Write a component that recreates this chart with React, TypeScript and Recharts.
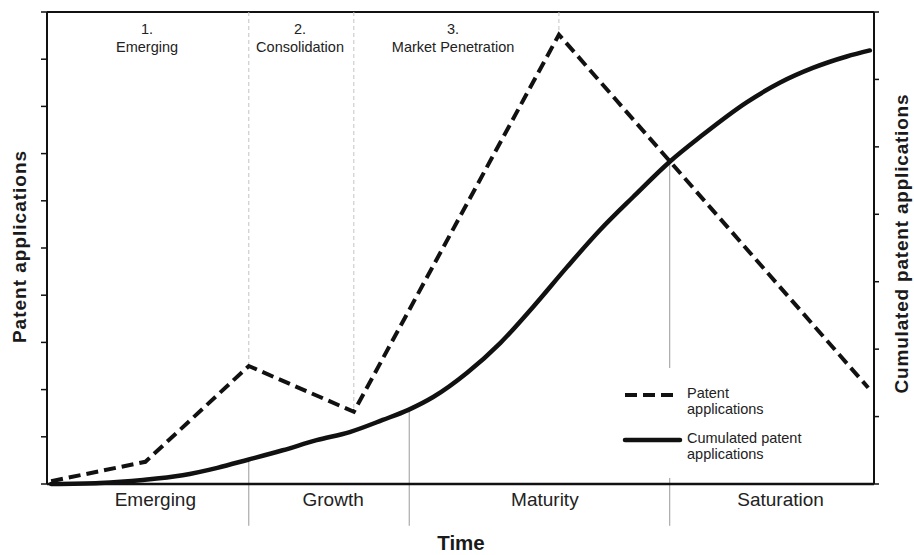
import React from 'react'
import { LineChart, Line, XAxis, YAxis, ReferenceLine, ReferenceDot, Legend } from 'recharts'

const FONT = '"Liberation Sans", Arial, Helvetica, sans-serif'
const INK = '#111'

// time axis runs 0..100 across the plot
const patentTime = [0.5, 11.9, 24.4, 37.1, 61.9, 99.3]
const patentValues = [0.06, 0.47, 2.5, 1.53, 9.52, 2.04]

const cumulatedTime = [
  0.5, 6.4, 11.6, 16.4, 20.6, 24.3, 28.5, 32.6, 36.6, 40.6, 43.7, 46.7, 50.8,
  54.8, 58.8, 62.9, 66.9, 70.9, 75.3, 79.0, 84.6, 88.6, 92.6, 96.7, 99.5,
]
const cumulatedValues = [
  0, 0.015, 0.06, 0.13, 0.24, 0.36, 0.5, 0.65, 0.77, 0.95, 1.1, 1.29, 1.65,
  2.09, 2.63, 3.22, 3.77, 4.26, 4.78, 5.15, 5.66, 5.95, 6.17, 6.34, 6.43,
]

const stageNumbers = ['1.', '2.', '3.']
const stageNames = ['Emerging', 'Consolidation', 'Market Penetration']
const stageCenters = [12.1, 30.6, 49.1]
const stageBounds = [24.4, 37.1, 61.9]
const stageBoundValues = [2.5, 1.53, 9.52]

const phaseNames = ['Emerging', 'Growth', 'Maturity', 'Saturation']
const phaseCenters = [13.1, 34.6, 60.2, 88.7]
const phaseBounds = [24.4, 43.8, 75.3]
const phaseBoundValues = [0.36, 1.1, 4.78]

const leftTicks = [0, 1, 2, 3, 4, 5, 6, 7, 8, 9, 10]
const rightTicks = [0, 1, 2, 3, 4, 5, 6, 7]

const patentData = patentTime.map((t, i) => ({ t, v: patentValues[i] }))
const cumulatedData = cumulatedTime.map((t, i) => ({ t, v: cumulatedValues[i] }))

const NoLabel = () => <g />

function stageLabel(i: number) {
  return (props: any) => {
    const { x, y, width } = props.viewBox
    const cx = x + (width || 0) / 2
    return (
      <g>
        <text x={cx} y={y + 21.5} textAnchor="middle" fontFamily={FONT} fontSize={14.5} fill="#222">
          {stageNumbers[i]}
        </text>
        <text x={cx} y={y + 39.7} textAnchor="middle" fontFamily={FONT} fontSize={14.5} fill="#222">
          {stageNames[i]}
        </text>
      </g>
    )
  }
}

function LegendBox() {
  const txt = { fontFamily: FONT, fontSize: 14.5, fill: '#222' }
  return (
    <svg width={220} height={95}>
      <line x1={5} y1={20} x2={55} y2={20} stroke={INK} strokeWidth={4} strokeDasharray="12 6" />
      <text x={67} y={22.5} {...txt}>Patent</text>
      <text x={67} y={38.5} {...txt}>applications</text>
      <line x1={5} y1={65} x2={60} y2={65} stroke={INK} strokeWidth={4.5} strokeLinecap="round" />
      <text x={67} y={67.8} {...txt}>Cumulated patent</text>
      <text x={67} y={83.5} {...txt}>applications</text>
    </svg>
  )
}

const titleStyle = { fontFamily: FONT, fontWeight: 700, fill: '#1a1a1a' }

export default function App() {
  return (
    <div style={{ position: 'absolute', left: 0, top: 0, background: '#fff' }}>
      <LineChart width={914} height={555} margin={{ top: 12, right: 0, bottom: 0, left: 0 }}>
        <XAxis
          xAxisId="x"
          dataKey="t"
          type="number"
          domain={[0, 100]}
          ticks={phaseCenters}
          tickFormatter={(v) => phaseNames[phaseCenters.indexOf(v)]}
          tickLine={false}
          tickSize={6}
          tickMargin={3}
          height={71}
          axisLine={{ stroke: INK, strokeWidth: 2.5 }}
          tick={{ fontFamily: FONT, fontSize: 19, fill: '#222' }}
          label={{
            content: () => (
              <text x={461} y={550} textAnchor="middle" fontSize={20.5} {...titleStyle}>
                Time
              </text>
            ),
          }}
        />
        <YAxis
          yAxisId="left"
          domain={[0, 10]}
          ticks={leftTicks}
          tick={<NoLabel />}
          tickSize={6}
          width={47}
          axisLine={{ stroke: INK, strokeWidth: 2 }}
          tickLine={{ stroke: INK, strokeWidth: 1.5 }}
          label={{
            content: () => (
              <text
                x={26}
                y={246.5}
                transform="rotate(-90, 26, 246.5)"
                textAnchor="middle"
                fontSize={19}
                letterSpacing={1}
                {...titleStyle}
              >
                Patent applications
              </text>
            ),
          }}
        />
        <YAxis
          yAxisId="right"
          orientation="right"
          domain={[0, 7]}
          ticks={rightTicks}
          tick={<NoLabel />}
          tickSize={5}
          width={40}
          axisLine={{ stroke: INK, strokeWidth: 2 }}
          tickLine={{ stroke: INK, strokeWidth: 1.5 }}
          label={{
            content: () => (
              <text
                x={908}
                y={243.5}
                transform="rotate(-90, 908, 243.5)"
                textAnchor="middle"
                fontSize={19}
                letterSpacing={0.8}
                {...titleStyle}
              >
                Cumulated patent applications
              </text>
            ),
          }}
        />

        <ReferenceLine xAxisId="x" yAxisId="left" y={10} stroke={INK} strokeWidth={2} />

        {stageBounds.map((b, i) => (
          <ReferenceLine
            key={`s${i}`}
            xAxisId="x"
            yAxisId="left"
            segment={[
              { x: b, y: 10 },
              { x: b, y: stageBoundValues[i] },
            ]}
            stroke="#c4c4c4"
            strokeWidth={1}
            strokeDasharray="4 3"
          />
        ))}

        {stageCenters.map((c, i) => (
          <ReferenceDot
            key={`l${i}`}
            xAxisId="x"
            yAxisId="left"
            x={c}
            y={10}
            r={0}
            fill="none"
            stroke="none"
            ifOverflow="visible"
            label={{ content: stageLabel(i) }}
          />
        ))}

        {phaseBounds.map((b, i) => (
          <ReferenceLine
            key={`p${i}`}
            xAxisId="x"
            yAxisId="right"
            ifOverflow="visible"
            segment={[
              { x: b, y: phaseBoundValues[i] },
              { x: b, y: i === 2 ? 1.72 : -0.62 },
            ]}
            stroke="#9a9a9a"
            strokeWidth={1}
          />
        ))}
        <ReferenceLine
          xAxisId="x"
          yAxisId="right"
          ifOverflow="visible"
          segment={[
            { x: phaseBounds[2], y: 0.09 },
            { x: phaseBounds[2], y: -0.62 },
          ]}
          stroke="#9a9a9a"
          strokeWidth={1}
        />

        <Line
          xAxisId="x"
          yAxisId="right"
          data={cumulatedData}
          dataKey="v"
          type="monotone"
          stroke={INK}
          strokeWidth={4.5}
          strokeLinecap="round"
          dot={false}
          activeDot={false}
          isAnimationActive={false}
        />
        <Line
          xAxisId="x"
          yAxisId="left"
          data={patentData}
          dataKey="v"
          type="linear"
          stroke={INK}
          strokeWidth={4}
          strokeDasharray="12 6"
          dot={false}
          activeDot={false}
          isAnimationActive={false}
        />

        <Legend
          layout="horizontal"
          verticalAlign="middle"
          align="center"
          wrapperStyle={{ left: 620, top: 375, width: 220, height: 95 }}
          content={() => <LegendBox />}
        />
      </LineChart>
    </div>
  )
}
